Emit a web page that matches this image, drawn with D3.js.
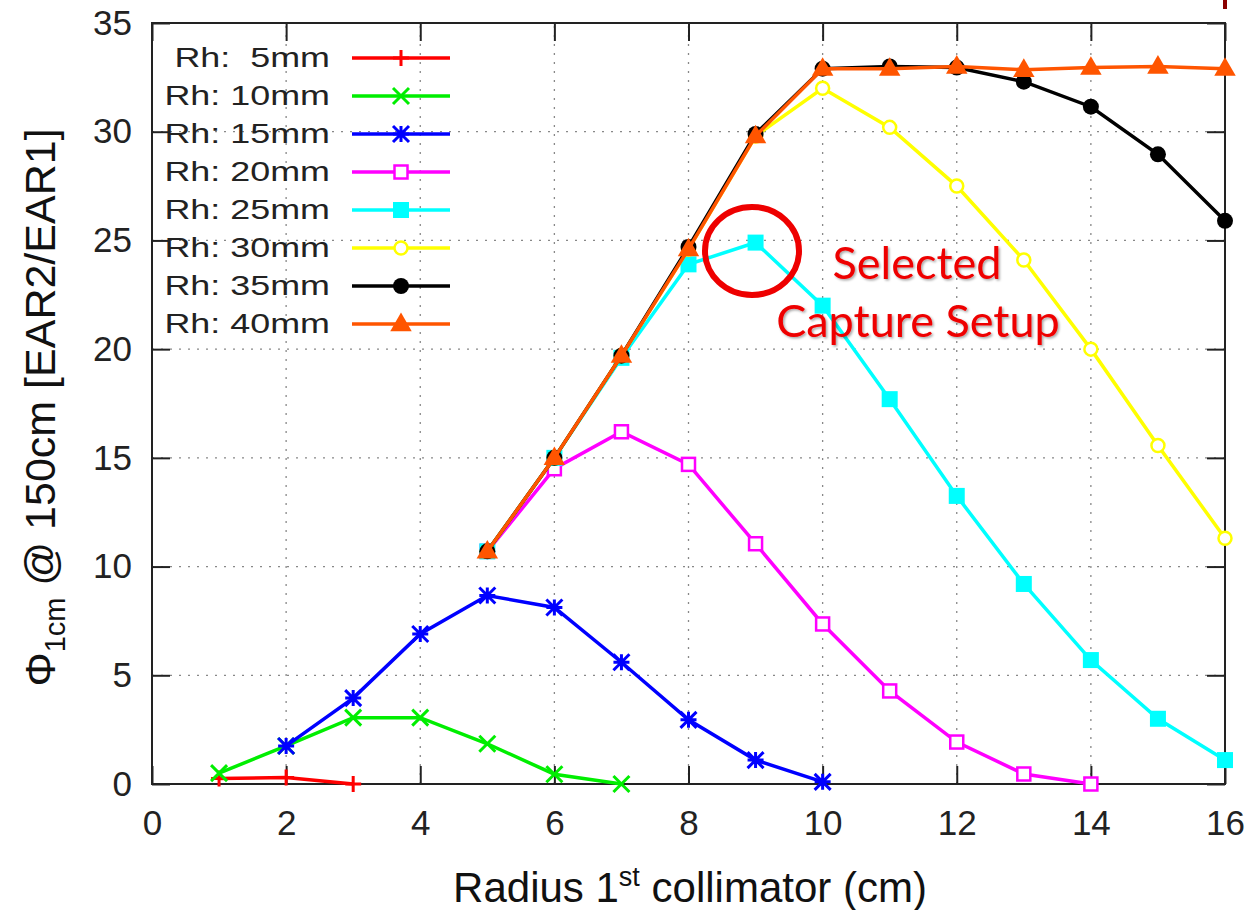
<!DOCTYPE html>
<html>
<head>
<meta charset="utf-8">
<script src="https://cdn.jsdelivr.net/npm/d3@7"></script>
<style>
  body { margin: 0; background: #fff; }
  svg { display: block; }
  text { font-family: "Liberation Sans", Arial, sans-serif; }
</style>
</head>
<body>
<div id="chart"></div>
<script>
// radius of first collimator (cm) vs flux ratio, one array per Rh value
const rh5  = [[1, 0.25], [2, 0.3], [3, 0.0]];
const rh10 = [[1, 0.5], [2, 1.75], [3, 3.05], [4, 3.05], [5, 1.85], [6, 0.45], [7, 0.0]];
const rh15 = [[2, 1.75], [3, 3.95], [4, 6.9], [5, 8.67], [6, 8.12], [7, 5.6], [8, 2.95], [9, 1.1], [10, 0.1]];
const rh20 = [[5, 10.7], [6, 14.5], [7, 16.2], [8, 14.7], [9, 11.05], [10, 7.36], [11, 4.28], [12, 1.93], [13, 0.46], [14, 0.0]];
const rh25 = [[5, 10.7], [6, 15.0], [7, 19.6], [8, 23.9], [9, 24.9], [10, 22.0], [11, 17.7], [12, 13.25], [13, 9.2], [14, 5.7], [15, 3.0], [16, 1.1]];
const rh30 = [[5, 10.7], [6, 15.0], [7, 19.7], [8, 24.6], [9, 29.8], [10, 32.0], [11, 30.2], [12, 27.5], [13, 24.1], [14, 20.0], [15, 15.57], [16, 11.3]];
const rh35 = [[5, 10.7], [6, 15.0], [7, 19.7], [8, 24.7], [9, 29.9], [10, 32.9], [11, 33.0], [12, 32.95], [13, 32.3], [14, 31.15], [15, 28.96], [16, 25.9]];
const rh40 = [[5, 10.7], [6, 15.0], [7, 19.7], [8, 24.6], [9, 29.8], [10, 32.9], [11, 32.9], [12, 33.0], [13, 32.85], [14, 32.95], [15, 33.0], [16, 32.9]];

const seriesNames = ["Rh:  5mm", "Rh: 10mm", "Rh: 15mm", "Rh: 20mm", "Rh: 25mm", "Rh: 30mm", "Rh: 35mm", "Rh: 40mm"];
const seriesData = [rh5, rh10, rh15, rh20, rh25, rh30, rh35, rh40];
const seriesColors = ["#ff0000", "#00ee00", "#0000ff", "#ff00ff", "#00ffff", "#ffff00", "#000000", "#ff5500"];
const seriesMarkers = ["plus", "cross", "star", "squareOpen", "square", "circleOpen", "circle", "triangle"];

const xTicks = [0, 2, 4, 6, 8, 10, 12, 14, 16];
const yTicks = [0, 5, 10, 15, 20, 25, 30, 35];

const W = 1253, H = 910;
const margin = { top: 23, right: 28, bottom: 126, left: 152 };
const pw = W - margin.left - margin.right;
const ph = H - margin.top - margin.bottom;

const svg = d3.select('#chart').append('svg')
    .attr('width', W)
    .attr('height', H);

const x = d3.scaleLinear().domain([0, 16]).range([margin.left, margin.left + pw]);
const y = d3.scaleLinear().domain([0, 35]).range([margin.top + ph, margin.top]);

// grid
const grid = svg.append('g').attr('stroke', '#888').attr('stroke-width', 1.3).attr('stroke-dasharray', '2,7');
grid.selectAll('.gx').data(xTicks.slice(1, -1)).enter().append('line')
    .attr('x1', d => x(d)).attr('x2', d => x(d))
    .attr('y1', y(0)).attr('y2', y(35));
grid.selectAll('.gy').data(yTicks.slice(1, -1)).enter().append('line')
    .attr('x1', x(0)).attr('x2', x(16))
    .attr('y1', d => y(d)).attr('y2', d => y(d));

// axes with inward ticks, mirrored
const tk = 18;
const axisStyle = g => {
    g.select('.domain').remove();
    g.selectAll('.tick line').attr('stroke', '#222').attr('stroke-width', 2);
    g.selectAll('.tick text').attr('fill', '#222').style('font-size', '35px');
};
svg.append('g').attr('transform', `translate(0,${y(0)})`)
    .call(d3.axisBottom(x).tickValues(xTicks).tickSize(-tk).tickPadding(26))
    .call(axisStyle);
svg.append('g').attr('transform', `translate(0,${y(35)})`)
    .call(d3.axisTop(x).tickValues(xTicks).tickSize(-tk).tickFormat(''))
    .call(axisStyle);
svg.append('g').attr('transform', `translate(${x(0)},0)`)
    .call(d3.axisLeft(y).tickValues(yTicks).tickSize(-tk).tickPadding(20))
    .call(axisStyle);
svg.append('g').attr('transform', `translate(${x(16)},0)`)
    .call(d3.axisRight(y).tickValues(yTicks).tickSize(-tk).tickFormat(''))
    .call(axisStyle);

svg.append('rect')
    .attr('x', x(0)).attr('y', y(35))
    .attr('width', x(16) - x(0)).attr('height', y(0) - y(35))
    .attr('fill', 'none').attr('stroke', '#222').attr('stroke-width', 2);

// gnuplot-like point types
function marker(g, type, color) {
    const s = 8;
    if (type === 'plus') {
        g.append('path').attr('d', `M${-s},0H${s}M0,${-s}V${s}`).attr('stroke', color).attr('stroke-width', 3).attr('fill', 'none');
    } else if (type === 'cross') {
        g.append('path').attr('d', `M${-s},${-s}L${s},${s}M${-s},${s}L${s},${-s}`).attr('stroke', color).attr('stroke-width', 3).attr('fill', 'none');
    } else if (type === 'star') {
        g.append('path').attr('d', `M${-s},0H${s}M0,${-s}V${s}M${-s},${-s}L${s},${s}M${-s},${s}L${s},${-s}`).attr('stroke', color).attr('stroke-width', 3).attr('fill', 'none');
    } else if (type === 'squareOpen') {
        g.append('rect').attr('x', -6.5).attr('y', -6.5).attr('width', 13).attr('height', 13).attr('stroke', color).attr('stroke-width', 2.5).attr('fill', '#fff');
    } else if (type === 'square') {
        g.append('rect').attr('x', -8).attr('y', -8).attr('width', 16).attr('height', 16).attr('fill', color);
    } else if (type === 'circleOpen') {
        g.append('circle').attr('r', 6.5).attr('stroke', color).attr('stroke-width', 2.5).attr('fill', '#fff');
    } else if (type === 'circle') {
        g.append('circle').attr('r', 8).attr('fill', color);
    } else if (type === 'triangle') {
        g.append('path').attr('d', d3.symbol(d3.symbolTriangle, 200)()).attr('fill', color).attr('transform', 'translate(0,1)');
    }
}

const line = d3.line().x(d => x(d[0])).y(d => y(d[1]));

seriesData.forEach((data, i) => {
    const g = svg.append('g');
    g.append('path').datum(data)
        .attr('d', line)
        .attr('fill', 'none')
        .attr('stroke', seriesColors[i])
        .attr('stroke-width', 3.5);
    g.selectAll('.pt').data(data).enter().append('g')
        .attr('transform', d => `translate(${x(d[0])},${y(d[1])})`)
        .each(function () { marker(d3.select(this), seriesMarkers[i], seriesColors[i]); });
});

// legend
const legend = svg.append('g');
seriesNames.forEach((name, i) => {
    const ly = 58 + i * 38;
    legend.append('text')
        .attr('transform', `translate(330,${ly}) scale(1.33,1)`)
        .attr('dy', '0.35em')
        .attr('text-anchor', 'end')
        .style('font-size', '27px').style('white-space', 'pre')
        .attr('fill', '#222')
        .text(name);
    legend.append('line')
        .attr('x1', 352).attr('x2', 450).attr('y1', ly).attr('y2', ly)
        .attr('stroke', seriesColors[i]).attr('stroke-width', 3.5);
    const mg = legend.append('g').attr('transform', `translate(401,${ly})`);
    marker(mg, seriesMarkers[i], seriesColors[i]);
});

// axis titles
const xt = svg.append('text')
    .attr('x', 690).attr('y', 902)
    .attr('text-anchor', 'middle')
    .style('font-size', '42px').attr('fill', '#111');
xt.append('tspan').text('Radius 1');
xt.append('tspan').attr('dy', -16).style('font-size', '27px').text('st');
xt.append('tspan').attr('dy', 16).text(' collimator (cm)');

const yt = svg.append('text')
    .attr('transform', `translate(55,${y(17.5) + 4}) rotate(-90)`)
    .attr('text-anchor', 'middle')
    .style('font-size', '43px').attr('fill', '#111');
yt.append('tspan').text('Φ');
yt.append('tspan').attr('dy', 10).style('font-size', '29px').text('1cm');
yt.append('tspan').attr('dy', -10).text(' @ 150cm [EAR2/EAR1]');

// annotation
svg.append('ellipse')
    .attr('cx', 752).attr('cy', 251).attr('rx', 47).attr('ry', 44)
    .attr('fill', 'none').attr('stroke', '#ee0000').attr('stroke-width', 6);

const defs = svg.append('defs');
const flt = defs.append('filter').attr('id', 'shadow');
flt.append('feDropShadow').attr('dx', 1.5).attr('dy', 1.5).attr('stdDeviation', 1).attr('flood-color', '#000').attr('flood-opacity', 0.35);

svg.append('text')
    .attr('x', 917).attr('y', 279)
    .attr('text-anchor', 'middle')
    .style('font-family', 'Lato, "Open Sans", sans-serif').style('font-size', '45px')
    .attr('fill', '#ee0000').attr('filter', 'url(#shadow)')
    .text('Selected');
svg.append('text')
    .attr('x', 918).attr('y', 337)
    .attr('text-anchor', 'middle')
    .style('font-family', 'Lato, "Open Sans", sans-serif').style('font-size', '45px')
    .attr('fill', '#ee0000').attr('filter', 'url(#shadow)')
    .text('Capture Setup');

// small mark in the top right corner
svg.append('rect').attr('x', 1223).attr('y', 0).attr('width', 4).attr('height', 9).attr('fill', '#8b0000');
</script>
</body>
</html>
